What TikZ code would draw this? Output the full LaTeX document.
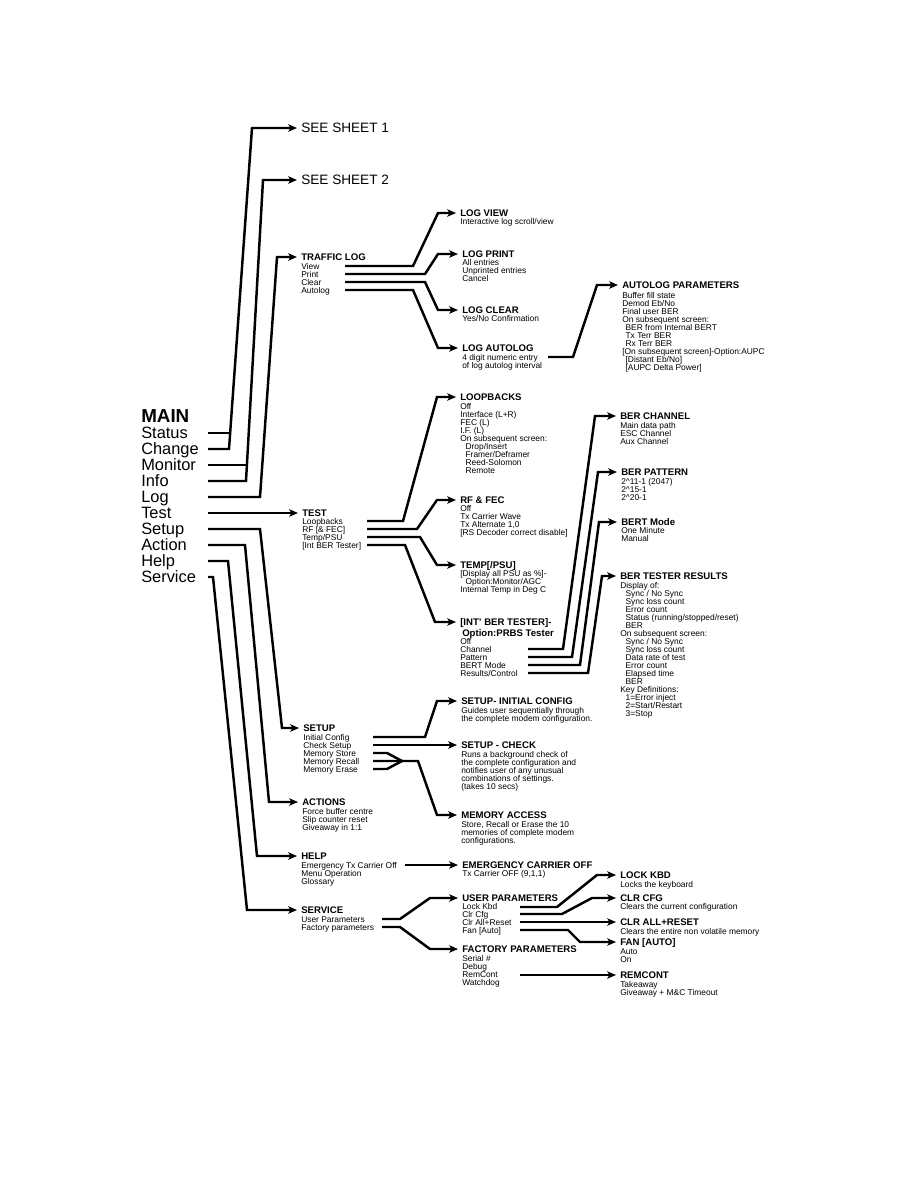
\documentclass[tikz,border=0pt]{standalone}
\usepackage{fontspec}
\setmainfont{Liberation Sans}
\usetikzlibrary{arrows.meta}
\newcommand\indA{\hspace*{2.5pt}}
\newcommand\indB{\hspace*{4pt}}
\begin{document}
\begin{tikzpicture}[x=0.75pt,y=-0.75pt]
\tikzset{
 ln/.style={line width=1.85pt},
 ar/.style={line width=1.85pt,-{Stealth[length=6.5pt,width=5.5pt,inset=1.5pt]}},
 hd/.style={anchor=west,inner sep=0pt,text height=5.16pt,text depth=0pt,font=\bfseries\fontsize{7.2}{8.25}\selectfont},
 it/.style={anchor=north west,inner sep=0pt,align=left,font=\fontsize{6.3}{6}\selectfont},
 mi/.style={anchor=west,inner sep=0pt,text height=8.8pt,text depth=0pt,font=\fontsize{12.3}{12}\selectfont},
 mb/.style={anchor=west,inner sep=0pt,text height=10.1pt,text depth=0pt,font=\bfseries\fontsize{14.1}{14}\selectfont},
 sh/.style={anchor=west,inner sep=0pt,text height=7.3pt,text depth=0pt,font=\fontsize{10.2}{12}\selectfont},
}
\useasboundingbox[fill=white] (0,0) rectangle (918,1188);

% ---------- main menu ----------
\node[mb] (main) at (141,416) {MAIN};
\node[mi] (status) at (141,433) {Status};
\node[mi] (change) at (141,449) {Change};
\node[mi] (monitor) at (141,465) {Monitor};
\node[mi] (info) at (141,481) {Info};
\node[mi] (log) at (141,497) {Log};
\node[mi] (test) at (141,513) {Test};
\node[mi] (setupm) at (141,529) {Setup};
\node[mi] (action) at (141,545) {Action};
\node[mi] (helpm) at (141,561) {Help};
\node[mi] (servicem) at (141,577) {Service};

\node[sh] (sheet1) at (301,128) {SEE SHEET 1};
\node[sh] (sheet2) at (301,180) {SEE SHEET 2};

% ---------- traffic log ----------
\node[hd] (traffic) at (301,257) {TRAFFIC LOG};
\node[it] (traffic-i) at (301,263) {View\\Print\\Clear\\Autolog};
\node[hd] (logview) at (460,213) {LOG VIEW};
\node[it] (logview-i) at (460,218) {Interactive log scroll/view};
\node[hd] (logprint) at (462,254) {LOG PRINT};
\node[it] (logprint-i) at (462,259) {All entries\\Unprinted entries\\Cancel};
\node[hd] (logclear) at (462,310) {LOG CLEAR};
\node[it] (logclear-i) at (462,315) {Yes/No Confirmation};
\node[hd] (logauto) at (462,348) {LOG AUTOLOG};
\node[it] (logauto-i) at (462,354) {4 digit numeric entry\\of log autolog interval};
\node[hd] (autop) at (622,285) {AUTOLOG PARAMETERS};
\node[it] (autop-i) at (622,292) {Buffer fill state\\Demod Eb/No\\Final user BER\\On subsequent screen:\\\indA BER from Internal BERT\\\indA Tx Terr BER\\\indA Rx Terr BER\\{}[On subsequent screen]-Option:AUPC\\\indA [Distant Eb/No]\\\indA [AUPC Delta Power]};

% ---------- test ----------
\node[hd] (testh) at (302,513) {TEST};
\node[it] (testh-i) at (302,518) {Loopbacks\\RF [\& FEC]\\Temp/PSU\\{}[Int BER Tester]};
\node[hd] (loop) at (460,397) {LOOPBACKS};
\node[it] (loop-i) at (460,403) {Off\\Interface (L+R)\\FEC (L)\\I.F. (L)\\On subsequent screen:\\\indB Drop/Insert\\\indB Framer/Deframer\\\indB Reed-Solomon\\\indB Remote};
\node[hd] (rffec) at (460,500) {RF \& FEC};
\node[it] (rffec-i) at (460,505) {Off\\Tx Carrier Wave\\Tx Alternate 1,0\\{}[RS Decoder correct disable]};
\node[hd] (temp) at (460,565) {TEMP[/PSU]};
\node[it] (temp-i) at (460,570) {[Display all PSU as \%]-\\\indB Option:Monitor/AGC\\Internal Temp in Deg C};
\node[hd] (intber) at (460,622) {[INT' BER TESTER]-};
\node[hd] (intber2) at (460,633) {\hspace*{1.5pt}Option:PRBS Tester};
\node[it] (intber-i) at (460,638) {Off\\Channel\\Pattern\\BERT Mode\\Results/Control};
\node[hd] (berchan) at (620,416) {BER CHANNEL};
\node[it] (berchan-i) at (620,422) {Main data path\\ESC Channel\\Aux Channel};
\node[hd] (berpat) at (621,472) {BER PATTERN};
\node[it] (berpat-i) at (621,478) {2\textasciicircum 11-1 (2047)\\2\textasciicircum 15-1\\2\textasciicircum 20-1};
\node[hd] (bertmode) at (621,522) {BERT Mode};
\node[it] (bertmode-i) at (621,527) {One Minute\\Manual};
\node[hd] (berres) at (620,576) {BER TESTER RESULTS};
\node[it] (berres-i) at (620,582) {Display of:\\\indB Sync / No Sync\\\indB Sync loss count\\\indB Error count\\\indB Status (running/stopped/reset)\\\indB BER\\On subsequent screen:\\\indB Sync / No Sync\\\indB Sync loss count\\\indB Data rate of test\\\indB Error count\\\indB Elapsed time\\\indB BER\\Key Definitions:\\\indB 1=Error inject\\\indB 2=Start/Restart\\\indB 3=Stop};

% ---------- setup ----------
\node[hd] (setup) at (303,728) {SETUP};
\node[it] (setup-i) at (303,734) {Initial Config\\Check Setup\\Memory Store\\Memory Recall\\Memory Erase};
\node[hd] (initcfg) at (461,701) {SETUP- INITIAL CONFIG};
\node[it] (initcfg-i) at (461,707) {Guides user sequentially through\\the complete modem configuration.};
\node[hd] (check) at (461,745) {SETUP - CHECK};
\node[it] (check-i) at (461,751) {Runs a background check of\\the complete configuration and\\notifies user of any unusual\\combinations of settings.\\(takes 10 secs)};
\node[hd] (memacc) at (461,815) {MEMORY ACCESS};
\node[it] (memacc-i) at (461,821) {Store, Recall or Erase the 10\\memories of complete modem\\configurations.};

% ---------- actions / help / service ----------
\node[hd] (actions) at (302,802) {ACTIONS};
\node[it] (actions-i) at (302,808) {Force buffer centre\\Slip counter reset\\Giveaway in 1:1};
\node[hd] (help) at (301,856) {HELP};
\node[it] (help-i) at (301,862) {Emergency Tx Carrier Off\\Menu Operation\\Glossary};
\node[hd] (emerg) at (462,865) {EMERGENCY CARRIER OFF};
\node[it] (emerg-i) at (462,870) {Tx Carrier OFF (9,1,1)};
\node[hd] (service) at (301,910) {SERVICE};
\node[it] (service-i) at (301,916) {User Parameters\\Factory parameters};
\node[hd] (userp) at (462,898) {USER PARAMETERS};
\node[it] (userp-i) at (462,903) {Lock Kbd\\Clr Cfg\\Clr All+Reset\\Fan [Auto]};
\node[hd] (factp) at (462,949) {FACTORY PARAMETERS};
\node[it] (factp-i) at (462,955) {Serial \#\\Debug\\RemCont\\Watchdog};
\node[hd] (lockkbd) at (620,875) {LOCK KBD};
\node[it] (lockkbd-i) at (620,881) {Locks the keyboard};
\node[hd] (clrcfg) at (620,898) {CLR CFG};
\node[it] (clrcfg-i) at (620,903) {Clears the current configuration};
\node[hd] (clrall) at (620,922) {CLR ALL+RESET};
\node[it] (clrall-i) at (620,928) {Clears the entire non volatile memory};
\node[hd] (fan) at (620,942) {FAN [AUTO]};
\node[it] (fan-i) at (620,948) {Auto\\On};
\node[hd] (remcont) at (620,975) {REMCONT};
\node[it] (remcont-i) at (620,981) {Takeaway\\Giveaway + M\&C Timeout};

% ---------- connectors from main ----------
\draw[ln] (208,433) -- (230,433);
\draw[ar] (208,449) -- (229,449) -- (252,128) -- ([xshift=-3pt]sheet1.west);
\draw[ln] (208,465) -- (247,465);
\draw[ar] (208,481) -- (246,481) -- (263,180) -- ([xshift=-3pt]sheet2.west);
\draw[ar] (208,497) -- (260,497) -- (277,257) -- ([xshift=-3pt]traffic.west);
\draw[ar] (208,513) -- ([xshift=-3pt]testh.west);
\draw[ar] (208,529) -- (260,529) -- (282,728) -- ([xshift=-3pt]setup.west);
\draw[ar] (208,545) -- (245,545) -- (269,802) -- ([xshift=-3pt]actions.west);
\draw[ar] (208,561) -- (228,561) -- (257,856) -- ([xshift=-3pt]help.west);
\draw[ar] (208,577) -- (213,577) -- (247,910) -- ([xshift=-3pt]service.west);

% ---------- traffic log connectors ----------
\draw[ar] (345,266) -- (413,266) -- (438,213) -- ([xshift=-3pt]logview.west);
\draw[ar] (345,274) -- (425,274) -- (438,254) -- ([xshift=-3pt]logprint.west);
\draw[ar] (345,282) -- (425,282) -- (438,310) -- ([xshift=-3pt]logclear.west);
\draw[ar] (345,290) -- (413,290) -- (438,348) -- ([xshift=-3pt]logauto.west);
\draw[ar] (548,357) -- (573,357) -- (597,285) -- ([xshift=-3pt]autop.west);

% ---------- test connectors ----------
\draw[ar] (367,521) -- (403,521) -- (437,397) -- ([xshift=-3pt]loop.west);
\draw[ar] (367,529) -- (417,529) -- (437,500) -- ([xshift=-3pt]rffec.west);
\draw[ar] (367,537) -- (420,537) -- (437,565) -- ([xshift=-3pt]temp.west);
\draw[ar] (367,545) -- (405,545) -- (435,622) -- ([xshift=-3pt]intber.west);
\draw[ar] (528,649) -- (563,649) -- (595,416) -- ([xshift=-3pt]berchan.west);
\draw[ar] (528,657) -- (572,657) -- (598,472) -- ([xshift=-3pt]berpat.west);
\draw[ar] (528,665) -- (580,665) -- (599,522) -- ([xshift=-3pt]bertmode.west);
\draw[ar] (528,673) -- (588,673) -- (602,576) -- ([xshift=-3pt]berres.west);

% ---------- setup connectors ----------
\draw[ar] (373,737) -- (425,737) -- (437,701) -- ([xshift=-3pt]initcfg.west);
\draw[ar] (373,745) -- ([xshift=-3pt]check.west);
\draw[ln] (373,753) -- (387,753) -- (402,761);
\draw[ln] (373,769) -- (387,769) -- (402,761);
\draw[ar] (373,761) -- (418,761) -- (437,815) -- ([xshift=-3pt]memacc.west);

% ---------- help / service connectors ----------
\draw[ar] (405,865) -- ([xshift=-3pt]emerg.west);
\draw[ar] (382,919) -- (400,919) -- (430,898) -- ([xshift=-3pt]userp.west);
\draw[ar] (382,927) -- (400,927) -- (430,949) -- ([xshift=-3pt]factp.west);
\draw[ar] (520,907) -- (557,907) -- (597,875) -- ([xshift=-3pt]lockkbd.west);
\draw[ar] (520,914) -- (562,914) -- (592,898) -- ([xshift=-3pt]clrcfg.west);
\draw[ar] (520,922) -- ([xshift=-3pt]clrall.west);
\draw[ar] (520,930) -- (568,930) -- (580,942) -- ([xshift=-3pt]fan.west);
\draw[ar] (520,975) -- ([xshift=-3pt]remcont.west);
\end{tikzpicture}
\end{document}
